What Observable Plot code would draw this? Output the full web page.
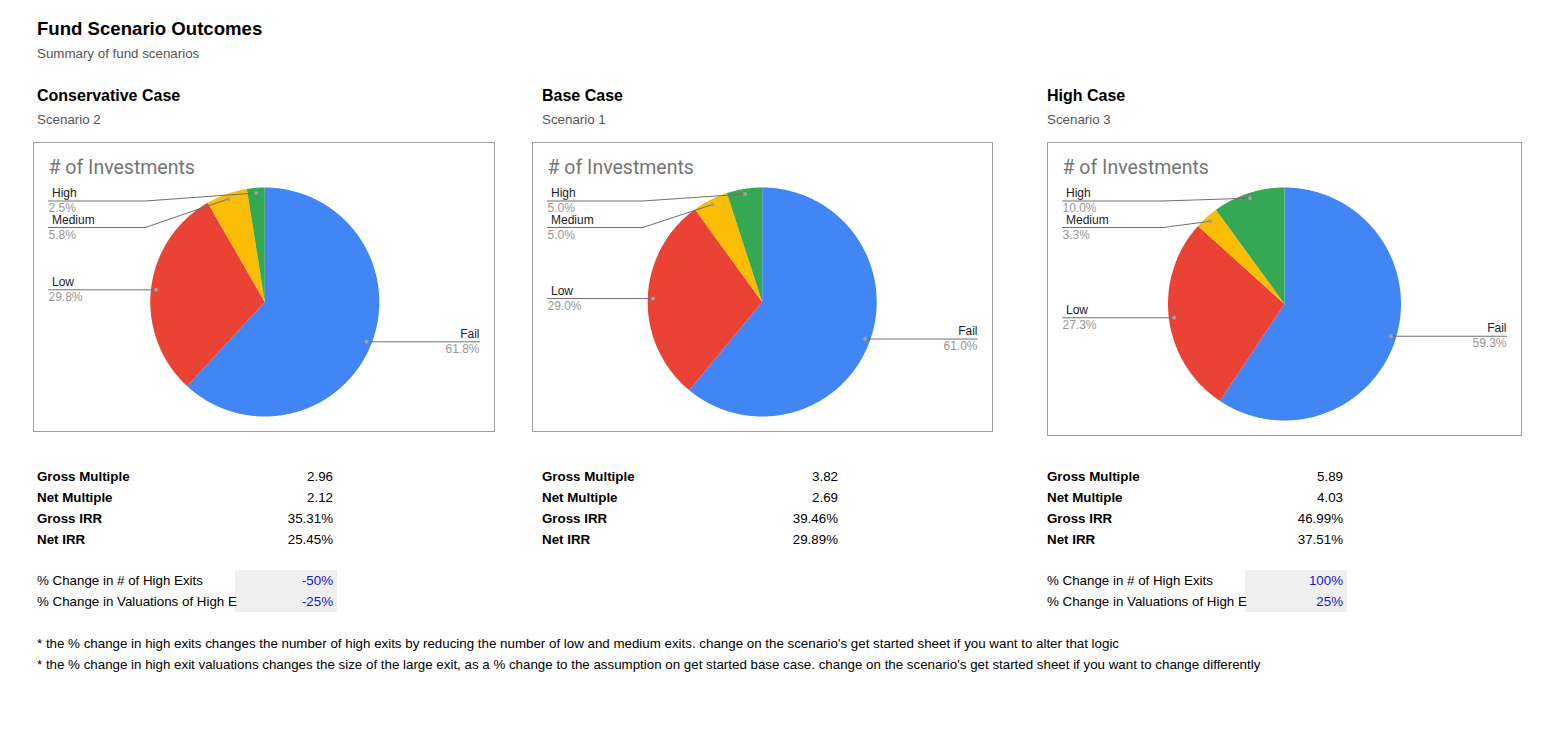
<!DOCTYPE html>
<html>
<head>
<meta charset="utf-8">
<script src="https://cdn.jsdelivr.net/npm/d3@7"></script>
<script src="https://cdn.jsdelivr.net/npm/@observablehq/plot@0.6"></script>
<style>
  html, body { margin: 0; padding: 0; background: #fff; }
  body { font-family: Arial, "Liberation Sans", sans-serif; color: #000; }
  #page { position: relative; width: 1566px; height: 754px; overflow: hidden; }
  .t { position: absolute; white-space: nowrap; line-height: 1; }
  .box { position: absolute; border: 1px solid #9e9e9e; box-sizing: border-box; background: #fff; }
  .box svg { display: block; background: transparent; }
  .cell { position: absolute; background: #efefef; }
</style>
</head>
<body>
<div id="page"></div>
<script>
// ---------------- data ----------------
const categories = ["Fail", "Low", "Medium", "High"];
const sliceColors = ["#4285f4", "#ea4335", "#fbbc04", "#34a853"];

const pageTitle = "Fund Scenario Outcomes";
const pageSubtitle = "Summary of fund scenarios";
const chartTitle = "# of Investments";

const scenarioNames = ["Conservative Case", "Base Case", "High Case"];
const scenarioSubtitles = ["Scenario 2", "Scenario 1", "Scenario 3"];

const conservativeShares = [61.8, 29.8, 5.8, 2.5];
const baseShares = [61.0, 29.0, 5.0, 5.0];
const highShares = [59.3, 27.3, 3.3, 10.0];

const metricLabels = ["Gross Multiple", "Net Multiple", "Gross IRR", "Net IRR"];
const conservativeMetrics = ["2.96", "2.12", "35.31%", "25.45%"];
const baseMetrics = ["3.82", "2.69", "39.46%", "29.89%"];
const highMetrics = ["5.89", "4.03", "46.99%", "37.51%"];

// second label is shown truncated by the neighbouring cell in the sheet
const changeLabels = ["% Change in # of High Exits", "% Change in Valuations of High E"];
const conservativeChanges = ["-50%", "-25%"];
const baseChanges = null;
const highChanges = ["100%", "25%"];

const notes = [
  "* the % change in high exits changes the number of high exits by reducing the number of low and medium exits. change on the scenario's get started sheet if you want to alter that logic",
  "* the % change in high exit valuations changes the size of the large exit, as a % change to the assumption on get started base case. change on the scenario's get started sheet if you want to change differently"
];

// ---------------- layout ----------------
const columns = [
  {x: 37, valueRight: 333, box: {left: 33, top: 142, w: 462, h: 290, cx: 230.3, cy: 158.5, r: 114.5},
   shares: conservativeShares, metrics: conservativeMetrics, changes: conservativeChanges},
  {x: 542, valueRight: 838, box: {left: 532, top: 142, w: 461, h: 290, cx: 228.7, cy: 158.5, r: 114.5},
   shares: baseShares, metrics: baseMetrics, changes: baseChanges},
  {x: 1047, valueRight: 1343, box: {left: 1047, top: 142, w: 475, h: 294, cx: 236, cy: 160.5, r: 116.5},
   shares: highShares, metrics: highMetrics, changes: highChanges}
];

const page = document.getElementById("page");
const ASC = 0.8465; // baseline offset for Arial-metric fonts with line-height 1
const FS = 13.33;

function addText(str, x, baseline, fs, opts = {}) {
  const d = document.createElement("div");
  d.className = "t";
  d.textContent = str;
  d.style.fontSize = fs + "px";
  d.style.top = (baseline - ASC * fs) + "px";
  if (opts.align === "right") d.style.right = (1566 - x) + "px";
  else d.style.left = x + "px";
  if (opts.bold) d.style.fontWeight = "bold";
  if (opts.color) d.style.color = opts.color;
  page.appendChild(d);
  return d;
}

function pieChart(shares, W, H, cx, cy, r) {
  const arcs = d3.pie().sort(null).value(d => d)(shares);
  const slicePts = [];
  const labels = [];
  const step = Math.PI / 360;
  arcs.forEach((a, i) => {
    const cat = categories[i];
    slicePts.push({cat, x: cx, y: cy});
    const n = Math.max(2, Math.ceil((a.endAngle - a.startAngle) / step));
    for (let k = 0; k <= n; k++) {
      const t = a.startAngle + (a.endAngle - a.startAngle) * k / n;
      slicePts.push({cat, x: cx + r * Math.sin(t), y: cy - r * Math.cos(t)});
    }
    const mid = (a.startAngle + a.endAngle) / 2;
    const R = r * 0.955;
    labels.push({
      cat, pct: shares[i].toFixed(1) + "%",
      dotX: cx + R * Math.sin(mid), dotY: cy - R * Math.cos(mid),
      side: mid > Math.PI ? "left" : "right"
    });
  });
  // stack labels on each side so they don't collide
  const top = cy - r + 13.5, gap = 26.5;
  for (const side of ["left", "right"]) {
    const L = labels.filter(d => d.side === side).sort((a, b) => a.dotY - b.dotY);
    let prev = -Infinity;
    for (const d of L) {
      d.lineY = Math.max(d.dotY, prev + gap, top);
      prev = d.lineY;
    }
  }
  const leftX = 14, rightX = W - 15;
  const leaders = [];
  for (const d of labels) {
    if (d.side === "left") {
      leaders.push({cat: d.cat, x: leftX, y: d.lineY});
      leaders.push({cat: d.cat, x: cx - r - 5, y: d.lineY});
      leaders.push({cat: d.cat, x: d.dotX, y: d.dotY});
    } else {
      leaders.push({cat: d.cat, x: d.dotX, y: d.dotY});
      leaders.push({cat: d.cat, x: cx + r + 5, y: d.lineY});
      leaders.push({cat: d.cat, x: rightX, y: d.lineY});
    }
  }
  const lx = d => d.side === "left" ? leftX + 3.5 : rightX;
  const px = d => d.side === "left" ? leftX : rightX;
  return Plot.plot({
    width: W, height: H, margin: 0,
    x: {type: "linear", domain: [0, W], range: [0, W], axis: null},
    y: {type: "linear", domain: [0, H], range: [0, H], axis: null},
    color: {domain: categories, range: sliceColors},
    style: {fontFamily: "Arial, 'Liberation Sans', sans-serif", fontSize: "12px", background: "transparent"},
    marks: [
      Plot.line(slicePts, {x: "x", y: "y", z: "cat", fill: "cat", stroke: "none", curve: "linear-closed"}),
      Plot.line(leaders, {x: "x", y: "y", z: "cat", stroke: "#6f6f6f", strokeWidth: 1}),
      Plot.dot(labels, {x: "dotX", y: "dotY", r: 2, fill: "#a0a0a0", stroke: "none"}),
      Plot.text(labels.filter(d => d.side === "left"), {x: lx, y: "lineY", text: "cat", textAnchor: "start", lineAnchor: "bottom", dy: -4, fill: "#222"}),
      Plot.text(labels.filter(d => d.side === "left"), {x: px, y: "lineY", text: "pct", textAnchor: "start", lineAnchor: "bottom", dy: 11, fill: "#969696"}),
      Plot.text(labels.filter(d => d.side === "right"), {x: lx, y: "lineY", text: "cat", textAnchor: "end", lineAnchor: "bottom", dy: -4, fill: "#222"}),
      Plot.text(labels.filter(d => d.side === "right"), {x: px, y: "lineY", text: "pct", textAnchor: "end", lineAnchor: "bottom", dy: 11, fill: "#969696"}),
      Plot.text([chartTitle], {text: d => d, frameAnchor: "top-left", dx: 14, dy: 30.5, lineAnchor: "bottom", textAnchor: "start",
        fontSize: 19.5, fontFamily: "Roboto, Arial, sans-serif", fill: "#757575"})
    ]
  });
}

// ---------------- page ----------------
addText(pageTitle, 37, 36, 18.6, {bold: true});
addText(pageSubtitle, 37, 58.5, FS, {color: "#555"});

columns.forEach((c, ci) => {
  addText(scenarioNames[ci], c.x, 101.5, 16, {bold: true});
  addText(scenarioSubtitles[ci], c.x, 124, FS, {color: "#555"});

  const b = c.box;
  const box = document.createElement("div");
  box.className = "box";
  box.style.left = b.left + "px";
  box.style.top = b.top + "px";
  box.style.width = b.w + "px";
  box.style.height = b.h + "px";
  box.appendChild(pieChart(c.shares, b.w - 2, b.h - 2, b.cx, b.cy, b.r));
  page.appendChild(box);

  metricLabels.forEach((m, i) => {
    addText(m, c.x, 481 + 21 * i, FS, {bold: true});
    addText(c.metrics[i], c.valueRight, 481 + 21 * i, FS, {align: "right"});
  });

  if (c.changes) {
    const cell = document.createElement("div");
    cell.className = "cell";
    cell.style.left = (c.valueRight - 98) + "px";
    cell.style.top = "570px";
    cell.style.width = "102px";
    cell.style.height = "42px";
    page.appendChild(cell);
    changeLabels.forEach((m, i) => {
      addText(m, c.x, 585.7 + 21 * i, FS);
      addText(c.changes[i], c.valueRight, 585.7 + 21 * i, FS, {align: "right", color: "#1515dd"});
    });
  }
});

notes.forEach((n, i) => addText(n, 37, 648.5 + 21 * i, FS));
</script>
</body>
</html>
